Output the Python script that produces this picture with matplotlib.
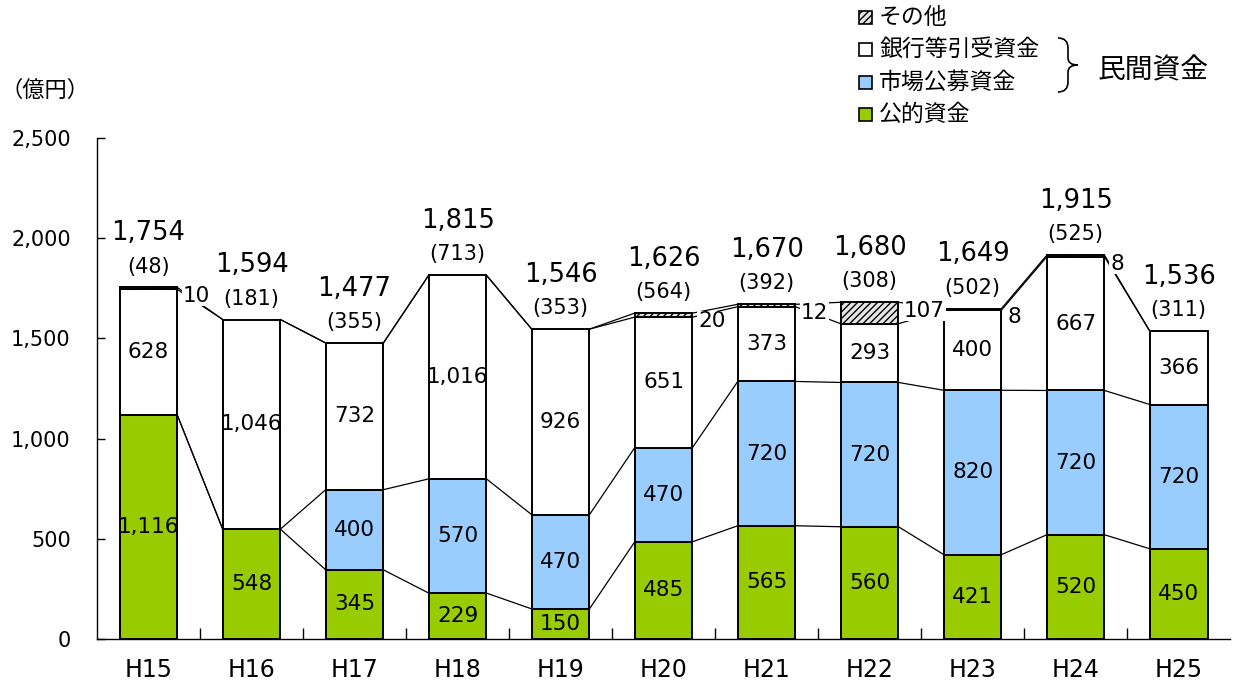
import numpy as np
import matplotlib
matplotlib.use("Agg")
import matplotlib.pyplot as plt
from matplotlib.path import Path
from matplotlib.patches import PathPatch, Rectangle

plt.rcParams['font.family'] = ['DejaVu Sans', 'Noto Sans CJK JP']
plt.rcParams['hatch.linewidth'] = 1.0
plt.rcParams['hatch.color'] = '#777777'

# data (億円)
years = ["H15", "H16", "H17", "H18", "H19", "H20", "H21", "H22", "H23", "H24", "H25"]
public = [1116, 548, 345, 229, 150, 485, 565, 560, 421, 520, 450]
market = [0, 0, 400, 570, 470, 470, 720, 720, 820, 720, 720]
bank = [628, 1046, 732, 1016, 926, 651, 373, 293, 400, 667, 366]
other = [10, 0, 0, 0, 0, 20, 12, 107, 8, 8, 0]
totals = [1754, 1594, 1477, 1815, 1546, 1626, 1670, 1680, 1649, 1915, 1536]
paren = [48, 181, 355, 713, 353, 564, 392, 308, 502, 525, 311]

GREEN = "#99CC00"
BLUE = "#99CCFF"
JP = ['Noto Sans CJK JP', 'DejaVu Sans']


def main():
    fig = plt.figure(figsize=(12.33, 6.95), dpi=100)
    ax = fig.add_axes([0.0787, 0.0806, 0.919, 0.7209])

    x = np.arange(len(years))
    w = 0.56
    pub = np.array(public)
    mkt = np.array(market)
    bnk = np.array(bank)
    oth = np.array(other)

    ax.bar(x, pub, w, color=GREEN, edgecolor="black", linewidth=1.4, zorder=3)
    ax.bar(x, mkt, w, bottom=pub, color=BLUE, edgecolor="black", linewidth=1.4, zorder=3)
    ax.bar(x, bnk, w, bottom=pub + mkt, color="white", edgecolor="black", linewidth=1.4, zorder=3)
    has_oth = oth > 0
    ax.bar(x[has_oth], oth[has_oth], w, bottom=(pub + mkt + bnk)[has_oth], color="#e6e6e6",
           edgecolor="black", linewidth=1.4, hatch="/////", zorder=3)

    # series lines
    levels = [pub, pub + mkt, pub + mkt + bnk, pub + mkt + bnk + oth]
    for lv in levels:
        for i in range(len(x) - 1):
            ax.plot([x[i] + w / 2, x[i + 1] - w / 2], [lv[i], lv[i + 1]],
                    color="black", lw=0.9, zorder=2)

    # inside labels
    def inside(vals, bottoms):
        for i, (v, b) in enumerate(zip(vals, bottoms)):
            if v > 50:
                ax.text(x[i], b + v / 2, f"{v:,}", ha="center", va="center",
                        fontsize=15.5, zorder=5)

    inside(pub, np.zeros(len(x)))
    inside(mkt, pub)
    inside(bnk, pub + mkt)

    # small "other" labels
    for i in range(len(x)):
        if 0 < oth[i]:
            ax.annotate(f"{oth[i]}", (x[i] + w / 2, totals[i]), xytext=(4, -6),
                        textcoords="offset points", ha="left", va="center", fontsize=15.5,
                        zorder=5, bbox=dict(facecolor="white", edgecolor="none", pad=0.5))

    # totals
    for i in range(len(x)):
        ax.annotate(f"({paren[i]})", (x[i], totals[i]), xytext=(0, 15),
                    textcoords="offset points", ha="center", va="center", fontsize=15,
                    zorder=5, annotation_clip=False,
                    bbox=dict(facecolor="white", edgecolor="none", pad=0.5))
        ax.annotate(f"{totals[i]:,}", (x[i], totals[i]), xytext=(0, 39),
                    textcoords="offset points", ha="center", va="center", fontsize=18.5,
                    zorder=5, annotation_clip=False,
                    bbox=dict(facecolor="white", edgecolor="none", pad=0.5))

    ax.set_xlim(-0.5, len(x) - 0.5)
    ax.set_ylim(0, 2500)
    ax.set_yticks([0, 500, 1000, 1500, 2000, 2500])
    ax.set_yticklabels(["0", "500", "1,000", "1,500", "2,000", "2,500"], fontsize=15)
    ax.tick_params(axis="y", direction="in", length=6, pad=19, width=1)
    ax.set_xticks(x)
    ax.set_xticklabels(years, fontsize=17)
    ax.tick_params(axis="x", length=0, pad=14)
    ax.set_xticks(np.arange(0.5, len(x) - 1, 1.0), minor=True)
    ax.tick_params(axis="x", which="minor", direction="in", length=8, width=1)
    for s in ["top", "right"]:
        ax.spines[s].set_visible(False)
    ax.spines["left"].set_linewidth(1)
    ax.spines["bottom"].set_linewidth(1)

    fig.text(0.0, 1 - 90 / 695, "（億円）", fontsize=16, family=JP, va="center")

    # legend
    leg_items = [("その他", "#e6e6e6", "/////"), ("銀行等引受資金", "white", None),
                 ("市場公募資金", BLUE, None), ("公的資金", GREEN, None)]
    ys = [17, 49, 82, 114]
    for (lab, col, hat), py in zip(leg_items, ys):
        fy = 1 - py / 695
        fig.patches.append(Rectangle((859 / 1233, fy - 6.5 / 695), 13 / 1233, 13 / 695,
                                     transform=fig.transFigure, facecolor=col,
                                     edgecolor="black", lw=1.2, hatch=hat))
        fig.text(879 / 1233, fy, lab, fontsize=16.5, family=JP, va="center", ha="left")

    # brace
    def p(px, py):
        return (px / 1233, 1 - py / 695)
    verts = [p(1058, 38), p(1068, 38), p(1068, 48), p(1068, 58),
             p(1068, 65), p(1078, 65), p(1068, 65), p(1068, 72),
             p(1068, 82), p(1068, 92), p(1058, 92)]
    codes = [Path.MOVETO, Path.CURVE3, Path.CURVE3, Path.LINETO,
             Path.CURVE3, Path.CURVE3, Path.CURVE3, Path.CURVE3,
             Path.LINETO, Path.CURVE3, Path.CURVE3]
    fig.patches.append(PathPatch(Path(verts, codes), transform=fig.transFigure,
                                 facecolor="none", edgecolor="black", lw=1.2))
    fig.text(1098 / 1233, 1 - 70 / 695, "民間資金", fontsize=20, family=JP,
             va="center", ha="left")

    fig.savefig("out.png", dpi=100)


if __name__ == "__main__":
    main()
